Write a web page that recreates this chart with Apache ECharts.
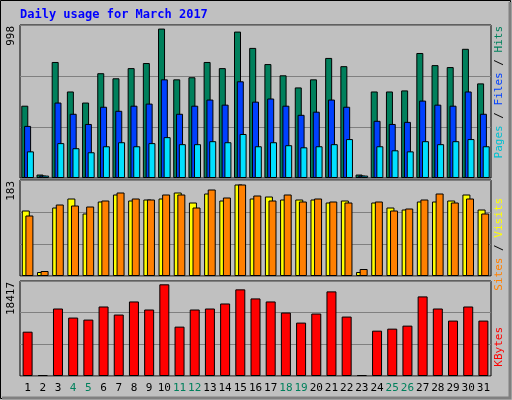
<!DOCTYPE html>
<html><head><meta charset="utf-8">
<script src="https://cdn.jsdelivr.net/npm/echarts@6/dist/echarts.min.js"></script>
<style>html,body{margin:0;padding:0;background:#c0c0c0}#c{width:512px;height:400px}</style>
</head><body><div id="c"></div><script>
var days = ['1','2','3','4','5','6','7','8','9','10','11','12','13','14','15','16','17','18','19','20','21','22','23','24','25','26','27','28','29','30','31'];
var weekend = ['4','5','11','12','18','19','25','26'];
var hits = [483,23,775,578,504,700,666,734,768,998,659,673,775,734,978,869,761,686,605,659,802,747,23,578,578,585,835,754,741,863,632];
var files = [348,16,504,429,361,476,449,483,497,659,429,483,524,490,646,510,531,483,422,443,524,476,16,382,361,375,517,490,483,578,429];
var pages = [178,16,233,199,172,212,239,212,233,273,226,226,246,239,294,212,239,219,205,212,226,260,16,212,185,178,246,226,246,260,212];
var visits = [131,8,137,155,125,149,163,151,153,155,167,147,165,151,183,155,159,153,153,153,147,151,8,147,137,133,149,149,151,163,133];
var sites = [121,10,143,141,139,151,167,155,153,163,163,137,173,157,183,161,151,163,149,155,149,147,14,149,131,135,153,165,147,155,125];
var kbytes = [8905,200,13560,11738,11333,13964,12345,14976,13357,18417,9917,13357,13560,14571,17405,15583,14976,12750,10726,12548,17000,11940,200,9107,9512,10119,15988,13560,11131,13964,11131];
var maxLabels = ['998','183','18417'];

var chart = echarts.init(document.getElementById('c'));
var mono = 'DejaVu Sans Mono';
function grid(top,h){return {left:20,right:21,top:top,height:h,show:true,borderColor:'#000',borderWidth:1,backgroundColor:'#c0c0c0'};}
function xa(i,show){return {type:'category',gridIndex:i,data:days,axisLine:{show:false},axisTick:{show:false},
  axisLabel:{show:show,fontFamily:mono,fontSize:11,margin:7,interval:0,color:function(v){return weekend.indexOf(v)>=0?'#00805c':'#000';}}};}
function ya(i,max){return {type:'value',gridIndex:i,min:0,max:max,interval:max/3,axisLabel:{show:false},axisLine:{show:false},axisTick:{show:false},
  splitLine:{lineStyle:{color:'#808080',width:1}}};}
function bar(name,data,color,xi,w,gap){return {type:'bar',name:name,data:data,xAxisIndex:xi,yAxisIndex:xi,barWidth:w,barGap:gap,
  itemStyle:{color:color,borderColor:'#000',borderWidth:1},animation:false,silent:true};}
function vtext(x,y,rich,txt){return {type:'text',x:x,y:y,rotation:Math.PI/2,style:{text:txt,rich:rich,font:'11px '+mono,align:'right',verticalAlign:'middle',fill:'#000'}};}
chart.setOption({
  animation:false,
  backgroundColor:'#c0c0c0',
  grid:[grid(25,153),grid(180,96),grid(281,95)],
  xAxis:[xa(0,false),xa(1,false),xa(2,true)],
  yAxis:[ya(0,1022),ya(1,192),ya(2,19085)],
  series:[
    bar('Hits',hits,'#00805c',0,7,'-60%'),
    bar('Files',files,'#0040ff',0,7,'-60%'),
    bar('Pages',pages,'#00e0ff',0,7,'-60%'),
    bar('Visits',visits,'#ffff00',1,8,'-55%'),
    bar('Sites',sites,'#ff8000',1,8,'-55%'),
    bar('KBytes',kbytes,'#ff0000',2,10,'0%')
  ],
  graphic:[
    {type:'rect',shape:{x:0.5,y:0.5,width:510,height:398},style:{fill:'none',stroke:'#000',lineWidth:1},silent:true},
    {type:'polyline',shape:{points:[[510,2],[510,398],[2,398]]},style:{stroke:'#808080',lineWidth:3,fill:'none'},silent:true},
    {type:'polyline',shape:{points:[[20,178],[20,25],[491,25],[491,178]]},style:{stroke:'none'}},
    {type:'text',x:20,y:9,style:{text:'Daily usage for March 2017',font:'bold 12px '+mono,fill:'#0000ff'}},
    {type:'text',x:6,y:26,rotation:Math.PI/2,style:{text:maxLabels[0],font:'11px '+mono,fill:'#000',align:'right',verticalAlign:'top'}},
    {type:'text',x:6,y:181,rotation:Math.PI/2,style:{text:maxLabels[1],font:'11px '+mono,fill:'#000',align:'right',verticalAlign:'top'}},
    {type:'text',x:6,y:282,rotation:Math.PI/2,style:{text:maxLabels[2],font:'11px '+mono,fill:'#000',align:'right',verticalAlign:'top'}},
    {type:'text',x:494,y:26,rotation:Math.PI/2,style:{text:'{p|Pages}{k| / }{f|Files}{k| / }{h|Hits}',font:'11px '+mono,align:'right',verticalAlign:'top',
      rich:{p:{fill:'#00c0d0',font:'11px '+mono},f:{fill:'#0040ff',font:'11px '+mono},h:{fill:'#00805c',font:'11px '+mono},k:{fill:'#000',font:'11px '+mono}}}},
    {type:'text',x:494,y:198,rotation:Math.PI/2,style:{text:'{s|Sites}{k| / }{v|Visits}',font:'11px '+mono,align:'right',verticalAlign:'top',
      rich:{s:{fill:'#ff8000',font:'11px '+mono},v:{fill:'#ffff00',font:'11px '+mono},k:{fill:'#000',font:'11px '+mono}}}},
    {type:'text',x:494,y:327,rotation:Math.PI/2,style:{text:'KBytes',font:'11px '+mono,fill:'#ff0000',align:'right',verticalAlign:'top'}}
  ]
});
</script></body></html>
